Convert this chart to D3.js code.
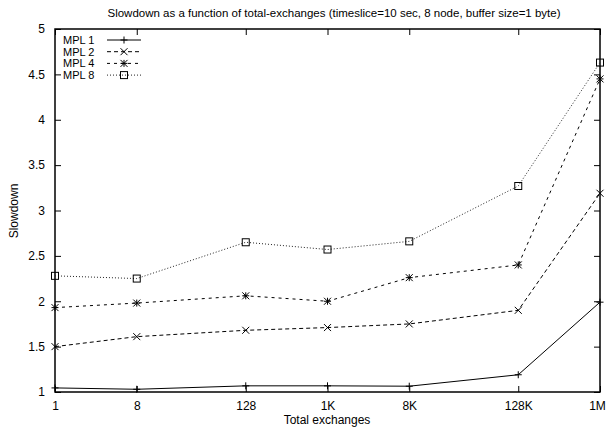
<!DOCTYPE html>
<html><head><meta charset="utf-8">
<script src="https://cdn.jsdelivr.net/npm/d3@7"></script>
<style>
body{margin:0;background:#fff;}
text{font-family:"Liberation Sans",Arial,Helvetica,sans-serif;fill:#000;}
</style></head>
<body><svg id="c" width="606" height="428"></svg>
<script>
const exchanges = [1, 8, 128, 1024, 8192, 131072, 1048576];
const tickLabels = ["1", "8", "128", "1K", "8K", "128K", "1M"];
const seriesNames = ["MPL 1", "MPL 2", "MPL 4", "MPL 8"];
const mpl1 = [1.045, 1.03, 1.068, 1.068, 1.064, 1.19, 1.99];
const mpl2 = [1.50, 1.61, 1.68, 1.71, 1.75, 1.90, 3.19];
const mpl4 = [1.93, 1.98, 2.06, 2.00, 2.26, 2.40, 4.45];
const mpl8 = [2.28, 2.25, 2.65, 2.57, 2.66, 3.27, 4.63];
const yTicks = [1, 1.5, 2, 2.5, 3, 3.5, 4, 4.5, 5];

const svg = d3.select("#c");
const L = 55, R = 600, T = 29, B = 392;
const x = d3.scaleLog().base(2).domain([1, 1048576]).range([L, R]);
const y = d3.scaleLinear().domain([1, 5]).range([B, T]);

svg.append("text").attr("x", 334).attr("y", 17).attr("text-anchor", "middle")
  .attr("font-size", 11.5).text("Slowdown as a function of total-exchanges (timeslice=10 sec, 8 node, buffer size=1 byte)");

const fmtY = d => d3.format("")(d);
const gl = svg.append("g").attr("transform", `translate(${L},0)`)
  .call(d3.axisLeft(y).tickValues(yTicks).tickFormat(fmtY).tickSize(-6).tickPadding(10));
const gr = svg.append("g").attr("transform", `translate(${R},0)`)
  .call(d3.axisRight(y).tickValues(yTicks).tickFormat("").tickSize(-6));
const gb = svg.append("g").attr("transform", `translate(0,${B})`)
  .call(d3.axisBottom(x).tickValues(exchanges).tickFormat((d, i) => tickLabels[i]).tickSize(-6).tickPadding(9));
const gt = svg.append("g").attr("transform", `translate(0,${T})`)
  .call(d3.axisTop(x).tickValues(exchanges).tickFormat("").tickSize(-6));
[gl, gr, gb, gt].forEach(g => {
  g.select(".domain").remove();
  g.selectAll("line").attr("stroke", "#000").attr("stroke-width", 1);
  g.selectAll("text").attr("font-size", 12).attr("font-family", "Liberation Sans, Arial, sans-serif").attr("fill", "#000");
});
gb.selectAll(".tick text").filter((d, i) => i === exchanges.length - 1).attr("dx", -3);
svg.append("rect").attr("x", L).attr("y", T).attr("width", R - L).attr("height", B - T)
  .attr("fill", "none").attr("stroke", "#000").attr("stroke-width", 1.5);

svg.append("text").attr("x", 327).attr("y", 424).attr("text-anchor", "middle").attr("font-size", 12).text("Total exchanges");
svg.append("text").attr("transform", "translate(18,211) rotate(-90)").attr("text-anchor", "middle").attr("font-size", 12).text("Slowdown");

const series = [
  {name: seriesNames[0], vals: mpl1, dash: null, color: "#000", mark: "plus"},
  {name: seriesNames[1], vals: mpl2, dash: "4,3", color: "#000", mark: "cross"},
  {name: seriesNames[2], vals: mpl4, dash: "3,4", color: "#000", mark: "star"},
  {name: seriesNames[3], vals: mpl8, dash: "1,2", color: "#222", mark: "square"}
];
function marker(g, type, cx, cy) {
  const s = 3.5;
  if (type === "plus" || type === "star") {
    g.append("path").attr("d", `M${cx - s},${cy}H${cx + s}M${cx},${cy - s}V${cy + s}`).attr("stroke", "#000").attr("stroke-width", 1).attr("fill", "none");
  }
  if (type === "cross" || type === "star") {
    g.append("path").attr("d", `M${cx - s},${cy - s}L${cx + s},${cy + s}M${cx - s},${cy + s}L${cx + s},${cy - s}`).attr("stroke", "#000").attr("stroke-width", 1).attr("fill", "none");
  }
  if (type === "square") {
    g.append("rect").attr("x", cx - s).attr("y", cy - s).attr("width", 2 * s).attr("height", 2 * s).attr("stroke", "#000").attr("stroke-width", 1).attr("fill", "none");
  }
}
const line = d3.line().x((d, i) => x(exchanges[i])).y(d => y(d));
series.forEach((s, k) => {
  const g = svg.append("g");
  g.append("path").datum(s.vals).attr("d", line).attr("fill", "none").attr("stroke", s.color)
    .attr("stroke-width", 1).attr("stroke-dasharray", s.dash);
  s.vals.forEach((v, i) => marker(g, s.mark, x(exchanges[i]), y(v)));
  // legend
  const ly = 40 + k * 11.7;
  svg.append("text").attr("x", 63).attr("y", ly + 4).attr("font-size", 11).text(s.name);
  g.append("line").attr("x1", 107).attr("x2", 141).attr("y1", ly).attr("y2", ly)
    .attr("stroke", s.color).attr("stroke-width", 1).attr("stroke-dasharray", s.dash);
  marker(g, s.mark, 124, ly);
});
</script></body></html>
